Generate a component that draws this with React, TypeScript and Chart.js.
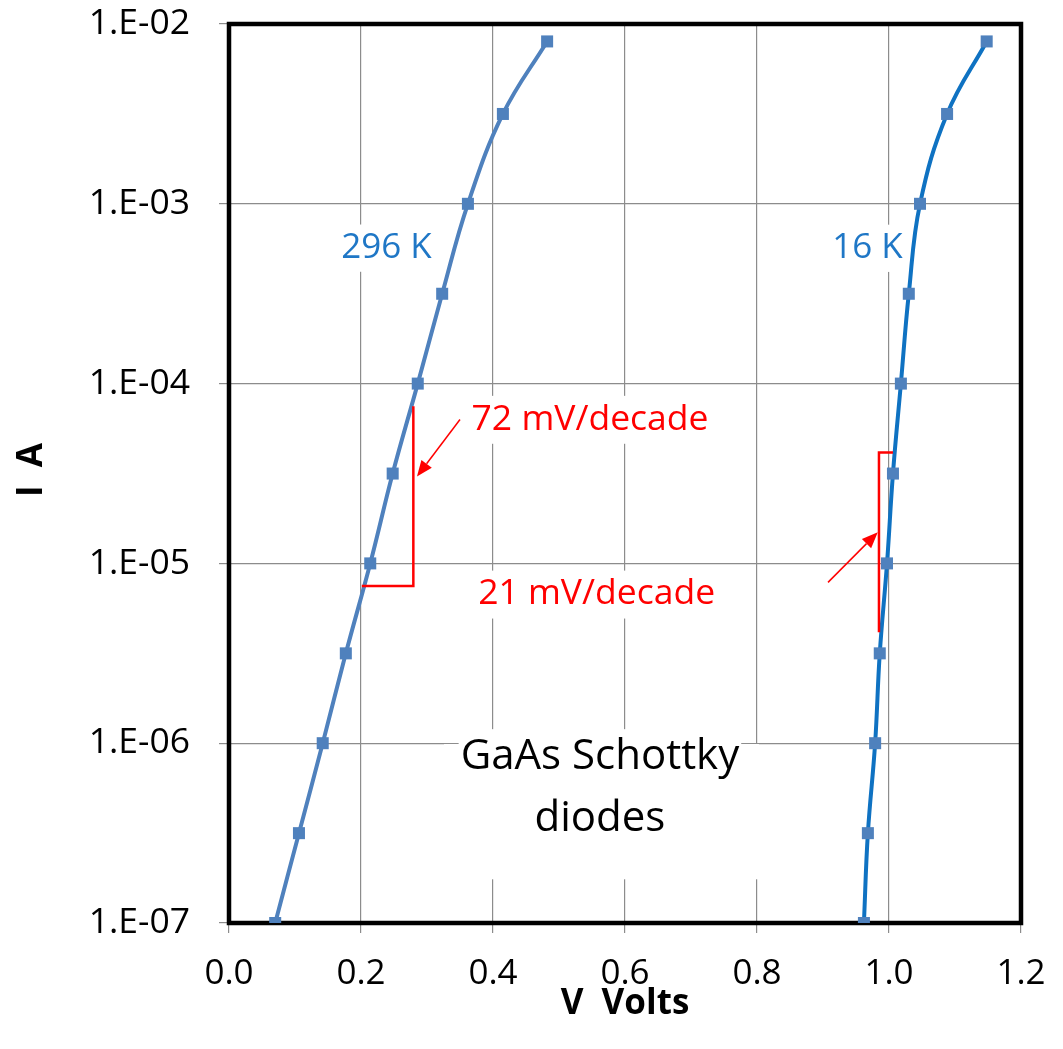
import { useEffect, useRef } from "react";
import { Chart, registerables } from "chart.js";

Chart.register(...registerables);

// Forward I-V characteristics of GaAs Schottky diodes at two temperatures
const currentsA = [1e-7, 3.16e-7, 1e-6, 3.16e-6, 1e-5, 3.16e-5, 1e-4, 3.16e-4, 1e-3, 3.16e-3, 8e-3];
const volts296K = [0.07, 0.106, 0.142, 0.177, 0.214, 0.248, 0.286, 0.323, 0.362, 0.415, 0.482];
const volts16K = [0.962, 0.968, 0.979, 0.986, 0.997, 1.006, 1.018, 1.03, 1.047, 1.088, 1.148];

const xTickValues = [0, 0.2, 0.4, 0.6, 0.8, 1.0, 1.2];
const yTickValues = [1e-7, 1e-6, 1e-5, 1e-4, 1e-3, 1e-2];

// Slope brackets: [V, I] corners
const bracket296K = [
  [0.2012, 7.48e-6],
  [0.2793, 7.48e-6],
  [0.2793, 7.48e-5],
];
const bracket16K = [
  [1.006, 4.14e-5],
  [0.9848, 4.14e-5],
  [0.9848, 4.14e-6],
];
// Arrows: [tailV, tailI, headV, headI]
const arrow296K = [0.35, 6.31e-5, 0.2848, 3.04e-5];
const arrow16K = [0.9076, 7.84e-6, 0.983, 1.49e-5];

const FONT = "'Open Sans', 'DejaVu Sans', sans-serif";
const BLUE_TEXT = "#1f77c6";
const RED = "#ff0000";

function fmtExp(v: number): string {
  const e = Math.round(Math.log10(v));
  return `1.E${e < 0 ? "-" : "+"}${String(Math.abs(e)).padStart(2, "0")}`;
}

export default function App() {
  const ref = useRef<HTMLCanvasElement | null>(null);

  useEffect(() => {
    const canvas = ref.current;
    if (!canvas) return;

    const frame = {
      id: "plotFrame",
      beforeDatasetsDraw(chart: any) {
        const { ctx, chartArea: a } = chart;
        ctx.save();
        ctx.strokeStyle = "#000";
        ctx.lineWidth = 4.5;
        ctx.strokeRect(a.left, a.top, a.right - a.left, a.bottom - a.top);
        ctx.restore();
      },
    };

    const notes = {
      id: "notes",
      afterDatasetsDraw(chart: any) {
        const { ctx } = chart;
        const xs = chart.scales.x;
        const ys = chart.scales.y;
        const px = (v: number) => xs.getPixelForValue(v);
        const py = (v: number) => ys.getPixelForValue(v);

        const label = (text: string, v: number, i: number, color: string, size: number, pad: number) => {
          ctx.save();
          ctx.font = `${size}px ${FONT}`;
          const w = ctx.measureText(text).width;
          const x = px(v);
          const y = py(i);
          ctx.fillStyle = "#fff";
          ctx.fillRect(x - w / 2 - pad, y - size * 0.95, w + pad * 2, size * 1.35);
          ctx.fillStyle = color;
          ctx.textAlign = "center";
          ctx.textBaseline = "alphabetic";
          ctx.fillText(text, x, y);
          ctx.restore();
        };

        // Box behind the two-line caption
        ctx.save();
        ctx.fillStyle = "#fff";
        const bx0 = px(0.3258);
        const bx1 = px(0.803);
        const by0 = py(9.9e-7);
        const by1 = py(1.75e-7);
        ctx.fillRect(bx0, by0, bx1 - bx0, by1 - by0);
        ctx.restore();

        label("296 K", 0.2386, 5.01e-4, BLUE_TEXT, 35, 4);
        label("16 K", 0.9674, 5.0e-4, BLUE_TEXT, 35, 4);
        label("72 mV/decade", 0.547, 5.55e-5, RED, 35.5, 6);
        label("21 mV/decade", 0.557, 5.92e-6, RED, 35.5, 6);
        label("GaAs Schottky", 0.562, 7.18e-7, "#000", 42, 2);
        label("diodes", 0.562, 3.24e-7, "#000", 42, 2);

        // Brackets
        const bracket = (pts: number[][]) => {
          ctx.save();
          ctx.strokeStyle = RED;
          ctx.lineWidth = 2.5;
          ctx.beginPath();
          pts.forEach(([v, i], k) => {
            if (k === 0) ctx.moveTo(px(v), py(i));
            else ctx.lineTo(px(v), py(i));
          });
          ctx.stroke();
          ctx.restore();
        };
        bracket(bracket296K);
        bracket(bracket16K);

        const arrow = (a: number[]) => {
          const x0 = px(a[0]);
          const y0 = py(a[1]);
          const x1 = px(a[2]);
          const y1 = py(a[3]);
          const ang = Math.atan2(y1 - y0, x1 - x0);
          const len = 16;
          const half = 6.5;
          const bxp = x1 - len * Math.cos(ang);
          const byp = y1 - len * Math.sin(ang);
          ctx.save();
          ctx.strokeStyle = RED;
          ctx.fillStyle = RED;
          ctx.lineWidth = 1.5;
          ctx.beginPath();
          ctx.moveTo(x0, y0);
          ctx.lineTo(bxp, byp);
          ctx.stroke();
          ctx.beginPath();
          ctx.moveTo(x1, y1);
          ctx.lineTo(bxp + half * Math.sin(ang), byp - half * Math.cos(ang));
          ctx.lineTo(bxp - half * Math.sin(ang), byp + half * Math.cos(ang));
          ctx.closePath();
          ctx.fill();
          ctx.restore();
        };
        arrow(arrow296K);
        arrow(arrow16K);

        // Axis titles
        const a = chart.chartArea;
        ctx.save();
        ctx.fillStyle = "#000";
        ctx.font = `bold 35px ${FONT}`;
        ctx.textAlign = "center";
        ctx.textBaseline = "middle";
        ctx.fillText("V  Volts", (a.left + a.right) / 2, 1004);
        ctx.translate(32, 470);
        ctx.rotate(-Math.PI / 2);
        ctx.fillText("I  A", 0, 0);
        ctx.restore();
      },
    };

    const chart = new Chart(canvas, {
      type: "line",
      data: {
        datasets: [
          {
            label: "296 K",
            data: volts296K.map((v, k) => ({ x: v, y: currentsA[k] })),
            borderColor: "#4f81bd",
            backgroundColor: "#4f81bd",
            borderWidth: 4,
            pointStyle: "rect",
            pointRadius: 8.5,
            pointBorderWidth: 0,
            pointBackgroundColor: "#4f81bd",
            tension: 0.4,
          },
          {
            label: "16 K",
            data: volts16K.map((v, k) => ({ x: v, y: currentsA[k] })),
            borderColor: "#0f72c2",
            backgroundColor: "#4f81bd",
            borderWidth: 4,
            pointStyle: "rect",
            pointRadius: 8.5,
            pointBorderWidth: 0,
            pointBackgroundColor: "#4f81bd",
            tension: 0.4,
          },
        ],
      },
      options: {
        animation: false,
        responsive: false,
        devicePixelRatio: 1,
        layout: { padding: { top: 24, right: 42, left: 0, bottom: 0 } },
        plugins: { legend: { display: false }, tooltip: { enabled: false } },
        scales: {
          x: {
            type: "linear",
            min: 0,
            max: 1.2,
            afterBuildTicks: (s: any) => {
              s.ticks = xTickValues.map((value) => ({ value }));
            },
            afterFit: (s: any) => {
              s.height = 126;
              s.paddingLeft = 0;
              s.paddingRight = 0;
            },
            grid: { color: "#8c8c8c", lineWidth: 1.2, drawTicks: true, tickLength: 10, tickColor: "#8c8c8c" },
            border: { display: false },
            ticks: {
              autoSkip: false,
              maxRotation: 0,
              padding: 20,
              color: "#000",
              font: { family: FONT, size: 35 },
              callback: (v: any) => Number(v).toFixed(1),
            },
          },
          y: {
            type: "logarithmic",
            min: 1e-7,
            max: 1e-2,
            afterBuildTicks: (s: any) => {
              s.ticks = yTickValues.map((value) => ({ value }));
            },
            afterFit: (s: any) => {
              s.width = 229;
              s.paddingTop = 0;
              s.paddingBottom = 0;
            },
            grid: { color: "#8c8c8c", lineWidth: 1.2, drawTicks: true, tickLength: 10, tickColor: "#8c8c8c" },
            border: { display: false },
            ticks: {
              autoSkip: false,
              padding: 29,
              color: "#000",
              font: { family: FONT, size: 35.5 },
              callback: (v: any) => fmtExp(Number(v)),
            },
          },
        },
      },
      plugins: [frame, notes],
    } as any);

    return () => chart.destroy();
  }, []);

  return (
    <canvas
      ref={ref}
      width={1063}
      height={1049}
      style={{ position: "fixed", left: 0, top: 0, width: 1063, height: 1049 }}
    />
  );
}
